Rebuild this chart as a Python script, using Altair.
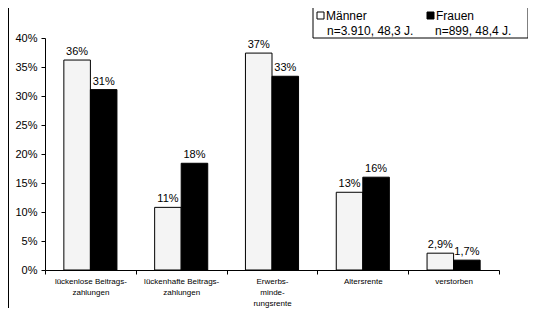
import altair as alt
import pandas as pd

categories = [
    "lückenlose Beitrags-|zahlungen",
    "lückenhafte Beitrags-|zahlungen",
    "Erwerbs-|minde-|rungsrente",
    "Altersrente",
    "verstorben",
]
series = ["Männer", "Frauen"]
series_notes = ["n=3.910, 48,3 J.", "n=899, 48,4 J."]
men = [36.2, 10.8, 37.4, 13.4, 2.9]
women = [31.1, 18.4, 33.4, 16.0, 1.7]
men_labels = ["36%", "11%", "37%", "13%", "2,9%"]
women_labels = ["31%", "18%", "33%", "16%", "1,7%"]
y_ticks = [0, 5, 10, 15, 20, 25, 30, 35, 40]

rows = []
for c, v, l in zip(categories, men, men_labels):
    rows.append({"cat": c, "series": series[0], "value": v, "label": l})
for c, v, l in zip(categories, women, women_labels):
    rows.append({"cat": c, "series": series[1], "value": v, "label": l})
df = pd.DataFrame(rows)

FONT = "Liberation Sans"

base = alt.Chart(df).encode(
    x=alt.X(
        "cat:N",
        sort=categories,
        scale=alt.Scale(paddingInner=0, paddingOuter=0),
        axis=alt.Axis(
            title=None,
            labelAngle=0,
            tickBand="extent",
            labelExpr="split(datum.label, '|')",
            labelFont=FONT,
            labelFontSize=8,
            labelColor="black",
            labelLineHeight=11,
            labelPadding=3,
            labelBaseline="top",
            tickSize=4,
            tickColor="black",
            domainColor="black",
        ),
    ),
    xOffset=alt.XOffset(
        "series:N", sort=series, scale=alt.Scale(paddingOuter=0.71, paddingInner=0)
    ),
    y=alt.Y(
        "value:Q",
        scale=alt.Scale(domain=[0, 40], nice=False),
        axis=alt.Axis(
            title=None,
            values=y_ticks,
            labelExpr="datum.value + '%'",
            grid=False,
            labelFont=FONT,
            labelFontSize=11,
            labelColor="black",
            tickSize=4,
            labelPadding=4,
            tickColor="black",
            domainColor="black",
        ),
    ),
)

bars = base.mark_bar(stroke="black", strokeWidth=1).encode(
    color=alt.Color(
        "series:N",
        scale=alt.Scale(domain=series, range=["#f4f4f4", "#000000"]),
        legend=None,
    )
)
texts = base.mark_text(
    baseline="bottom", dy=-3, font=FONT, fontSize=11, color="black"
).encode(text="label:N")

one = pd.DataFrame({"k": [0]})
deco = alt.Chart(one)

frame_left = deco.mark_rule(color="black", strokeWidth=1).encode(
    x=alt.value(-36.5), y=alt.value(-35), y2=alt.value(280)
)
frame_top = deco.mark_rule(color="black", strokeWidth=1).encode(
    x=alt.value(-36.5), x2=alt.value(483), y=alt.value(-35)
)
scan_line = deco.mark_rule(color="#777777", strokeWidth=1).encode(
    x=alt.value(132), x2=alt.value(285), y=alt.value(275)
)
legend_box = deco.mark_rect(fill="white", stroke="black", strokeWidth=1).encode(
    x=alt.value(268), x2=alt.value(483), y=alt.value(-31), y2=alt.value(0)
)
sq_m = deco.mark_rect(fill="white", stroke="black", strokeWidth=1).encode(
    x=alt.value(272), x2=alt.value(279), y=alt.value(-26), y2=alt.value(-19)
)
sq_f = deco.mark_rect(fill="black", stroke="black", strokeWidth=1).encode(
    x=alt.value(382), x2=alt.value(389), y=alt.value(-26), y2=alt.value(-19)
)
tkw = dict(align="left", baseline="middle", font=FONT, fontSize=12, color="black")
t_m = deco.mark_text(**tkw).encode(
    x=alt.value(281), y=alt.value(-22.5), text=alt.value(series[0])
)
t_mn = deco.mark_text(**tkw).encode(
    x=alt.value(282), y=alt.value(-7.5), text=alt.value(series_notes[0])
)
t_f = deco.mark_text(**tkw).encode(
    x=alt.value(391), y=alt.value(-22.5), text=alt.value(series[1])
)
t_fn = deco.mark_text(**tkw).encode(
    x=alt.value(390), y=alt.value(-7.5), text=alt.value(series_notes[1])
)

chart = (
    alt.layer(
        bars, texts, frame_left, frame_top, scan_line,
        legend_box, sq_m, sq_f, t_m, t_mn, t_f, t_fn,
    )
    .properties(
        width=454,
        height=232,
        autosize=alt.AutoSizeParams(type="none"),
        padding={"left": 37, "top": 30, "right": 29, "bottom": 38},
        background="white",
    )
    .configure_view(stroke=None)
)

chart.save("out.html", embed_options={"renderer": "svg", "actions": False})
